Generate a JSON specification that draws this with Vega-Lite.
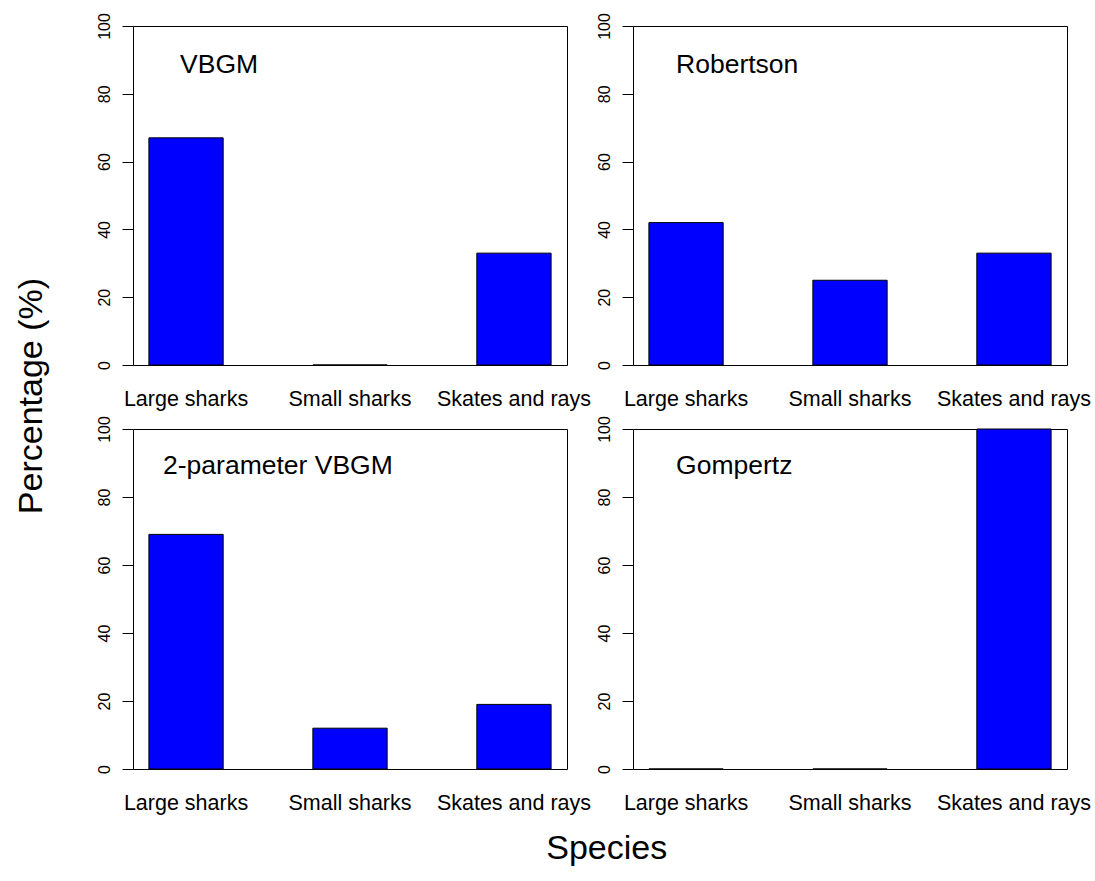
{
  "$schema": "https://vega.github.io/schema/vega-lite/v6.json",
  "background": "white",
  "padding": {"left": 14, "top": 12, "right": 5, "bottom": 5},
  "config": {
    "font": "Liberation Sans",
    "view": {"stroke": "black", "strokeWidth": 1},
    "axis": {"grid": false, "domainColor": "black", "tickColor": "black", "labelColor": "black", "labelFont": "Liberation Sans"},
    "title": {"font": "Liberation Sans", "fontWeight": "normal", "color": "black"}
  },
  "datasets": {
    "bars": [
      {"panel": "VBGM", "species": "Large sharks", "pct": 67},
      {"panel": "VBGM", "species": "Small sharks", "pct": 0},
      {"panel": "VBGM", "species": "Skates and rays", "pct": 33},
      {"panel": "Robertson", "species": "Large sharks", "pct": 42},
      {"panel": "Robertson", "species": "Small sharks", "pct": 25},
      {"panel": "Robertson", "species": "Skates and rays", "pct": 33},
      {"panel": "2-parameter VBGM", "species": "Large sharks", "pct": 69},
      {"panel": "2-parameter VBGM", "species": "Small sharks", "pct": 12},
      {"panel": "2-parameter VBGM", "species": "Skates and rays", "pct": 19},
      {"panel": "Gompertz", "species": "Large sharks", "pct": 0},
      {"panel": "Gompertz", "species": "Small sharks", "pct": 0},
      {"panel": "Gompertz", "species": "Skates and rays", "pct": 100}
    ],
    "titles": [
      {"panel": "VBGM", "label": "VBGM"},
      {"panel": "Robertson", "label": "Robertson"},
      {"panel": "2-parameter VBGM", "label": "2-parameter VBGM"},
      {"panel": "Gompertz", "label": "Gompertz"}
    ]
  },
  "title": {"text": "Species", "orient": "bottom", "fontSize": 34, "anchor": "middle", "offset": 18, "dx": 54},
  "vconcat": [
    {
      "title": {"text": "Percentage (%)", "orient": "left", "fontSize": 34, "anchor": "middle", "offset": 47, "dx": 17},
      "columns": 2,
      "spacing": {"row": 64, "column": 66},
      "bounds": "flush",
      "concat": [
        {
          "width": 434, "height": 339,
          "layer": [
            {
              "data": {"name": "bars"},
              "transform": [{"filter": "datum.panel == 'VBGM'"}],
              "mark": {"type": "bar", "fill": "#0000FF", "stroke": "black", "strokeWidth": 1},
              "encoding": {
                "x": {"field": "species", "type": "nominal", "sort": null, "scale": {"paddingInner": 0.547, "paddingOuter": 0.097},
                      "axis": {"title": null, "ticks": false, "tickSize": 0, "domain": false, "labelAngle": 0, "labelFontSize": 21.5, "labelPadding": 23, "labelBaseline": "top"}},
                "y": {"field": "pct", "type": "quantitative", "scale": {"domain": [0, 100], "nice": false},
                      "axis": {"title": null, "values": [0, 20, 40, 60, 80, 100], "tickSize": 11, "labelAngle": 270, "labelAlign": "center", "labelBaseline": "bottom", "labelFontSize": 16, "labelPadding": 10}}
              }
            },
            {
              "data": {"name": "titles"},
              "transform": [{"filter": "datum.panel == 'VBGM'"}],
              "mark": {"type": "text", "align": "left", "baseline": "alphabetic", "fontSize": 26.5, "dx": -6, "color": "black"},
              "encoding": {
                "x": {"datum": "Large sharks", "type": "nominal"},
                "y": {"datum": 86, "type": "quantitative"},
                "text": {"field": "label"}
              }
            }
          ]
        },
        {
          "width": 434, "height": 339,
          "layer": [
            {
              "data": {"name": "bars"},
              "transform": [{"filter": "datum.panel == 'Robertson'"}],
              "mark": {"type": "bar", "fill": "#0000FF", "stroke": "black", "strokeWidth": 1},
              "encoding": {
                "x": {"field": "species", "type": "nominal", "sort": null, "scale": {"paddingInner": 0.547, "paddingOuter": 0.097},
                      "axis": {"title": null, "ticks": false, "tickSize": 0, "domain": false, "labelAngle": 0, "labelFontSize": 21.5, "labelPadding": 23, "labelBaseline": "top"}},
                "y": {"field": "pct", "type": "quantitative", "scale": {"domain": [0, 100], "nice": false},
                      "axis": {"title": null, "values": [0, 20, 40, 60, 80, 100], "tickSize": 11, "labelAngle": 270, "labelAlign": "center", "labelBaseline": "bottom", "labelFontSize": 16, "labelPadding": 10}}
              }
            },
            {
              "data": {"name": "titles"},
              "transform": [{"filter": "datum.panel == 'Robertson'"}],
              "mark": {"type": "text", "align": "left", "baseline": "alphabetic", "fontSize": 26.5, "dx": -10, "color": "black"},
              "encoding": {
                "x": {"datum": "Large sharks", "type": "nominal"},
                "y": {"datum": 86, "type": "quantitative"},
                "text": {"field": "label"}
              }
            }
          ]
        },
        {
          "width": 434, "height": 340,
          "layer": [
            {
              "data": {"name": "bars"},
              "transform": [{"filter": "datum.panel == '2-parameter VBGM'"}],
              "mark": {"type": "bar", "fill": "#0000FF", "stroke": "black", "strokeWidth": 1},
              "encoding": {
                "x": {"field": "species", "type": "nominal", "sort": null, "scale": {"paddingInner": 0.547, "paddingOuter": 0.097},
                      "axis": {"title": null, "ticks": false, "tickSize": 0, "domain": false, "labelAngle": 0, "labelFontSize": 21.5, "labelPadding": 23, "labelBaseline": "top"}},
                "y": {"field": "pct", "type": "quantitative", "scale": {"domain": [0, 100], "nice": false},
                      "axis": {"title": null, "values": [0, 20, 40, 60, 80, 100], "tickSize": 11, "labelAngle": 270, "labelAlign": "center", "labelBaseline": "bottom", "labelFontSize": 16, "labelPadding": 10}}
              }
            },
            {
              "data": {"name": "titles"},
              "transform": [{"filter": "datum.panel == '2-parameter VBGM'"}],
              "mark": {"type": "text", "align": "left", "baseline": "alphabetic", "fontSize": 26.5, "dx": -23, "color": "black"},
              "encoding": {
                "x": {"datum": "Large sharks", "type": "nominal"},
                "y": {"datum": 86.8, "type": "quantitative"},
                "text": {"field": "label"}
              }
            }
          ]
        },
        {
          "width": 434, "height": 340,
          "layer": [
            {
              "data": {"name": "bars"},
              "transform": [{"filter": "datum.panel == 'Gompertz'"}],
              "mark": {"type": "bar", "fill": "#0000FF", "stroke": "black", "strokeWidth": 1},
              "encoding": {
                "x": {"field": "species", "type": "nominal", "sort": null, "scale": {"paddingInner": 0.547, "paddingOuter": 0.097},
                      "axis": {"title": null, "ticks": false, "tickSize": 0, "domain": false, "labelAngle": 0, "labelFontSize": 21.5, "labelPadding": 23, "labelBaseline": "top"}},
                "y": {"field": "pct", "type": "quantitative", "scale": {"domain": [0, 100], "nice": false},
                      "axis": {"title": null, "values": [0, 20, 40, 60, 80, 100], "tickSize": 11, "labelAngle": 270, "labelAlign": "center", "labelBaseline": "bottom", "labelFontSize": 16, "labelPadding": 10}}
              }
            },
            {
              "data": {"name": "titles"},
              "transform": [{"filter": "datum.panel == 'Gompertz'"}],
              "mark": {"type": "text", "align": "left", "baseline": "alphabetic", "fontSize": 26.5, "dx": -10, "color": "black"},
              "encoding": {
                "x": {"datum": "Large sharks", "type": "nominal"},
                "y": {"datum": 86.8, "type": "quantitative"},
                "text": {"field": "label"}
              }
            }
          ]
        }
      ]
    }
  ]
}
